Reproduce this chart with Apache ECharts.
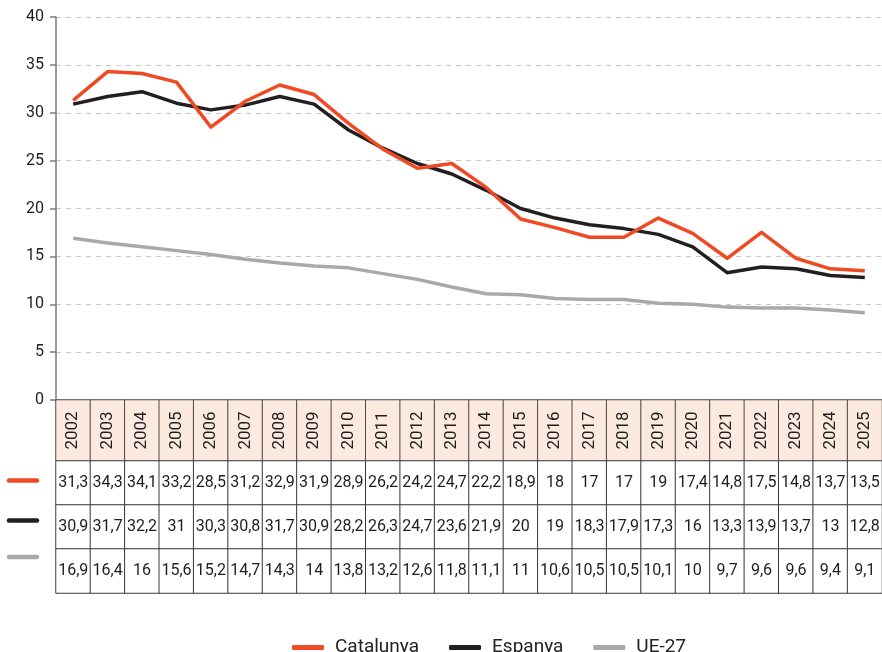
<!DOCTYPE html>
<html>
<head>
<meta charset="utf-8">
<script src="https://cdn.jsdelivr.net/npm/echarts@6/dist/echarts.min.js"></script>
<style>
html,body{margin:0;padding:0;background:#fff;}
#c{width:882px;height:652px;}
</style>
</head>
<body>
<div id="c"></div>
<script>
const years = ['2002','2003','2004','2005','2006','2007','2008','2009','2010','2011','2012','2013','2014','2015','2016','2017','2018','2019','2020','2021','2022','2023','2024','2025'];
const catalunya = [31.3,34.3,34.1,33.2,28.5,31.2,32.9,31.9,28.9,26.2,24.2,24.7,22.2,18.9,18,17,17,19,17.4,14.8,17.5,14.8,13.7,13.5];
const espanya = [30.9,31.7,32.2,31,30.3,30.8,31.7,30.9,28.2,26.3,24.7,23.6,21.9,20,19,18.3,17.9,17.3,16,13.3,13.9,13.7,13,12.8];
const ue27 = [16.9,16.4,16,15.6,15.2,14.7,14.3,14,13.8,13.2,12.6,11.8,11.1,11,10.6,10.5,10.5,10.1,10,9.7,9.6,9.6,9.4,9.1];
const seriesNames = ['Catalunya','Espanya','UE-27'];
const yTicks = {min:0, max:40, interval:5};

const colors = {Catalunya:'#EF4A24', Espanya:'#231F20', 'UE-27':'#A8A9AC'};
const seriesData = {Catalunya:catalunya, Espanya:espanya, 'UE-27':ue27};
const FONT = 'Roboto, "Noto Sans", sans-serif';
const fmt = v => String(v).replace('.', ',');

const headerCells = years.map((y,i)=>[i,0,y]);
const valueCells = [];
seriesNames.forEach((n,r)=>{ seriesData[n].forEach((v,i)=>valueCells.push([i,r,v])); });

const chart = echarts.init(document.getElementById('c'), null, {renderer:'canvas'});
const lineSeries = ['UE-27','Espanya','Catalunya'].map((n,k)=>({
  name:n, type:'line', xAxisIndex:0, yAxisIndex:0, data:seriesData[n],
  symbol:'none', smooth:false, z:5+k,
  lineStyle:{color:colors[n], width:3.5, join:'round'},
  itemStyle:{color:colors[n]},
  silent:true
}));

chart.setOption({
  animation:false,
  textStyle:{fontFamily:FONT},
  grid:[
    {left:56, right:0, top:17, height:383},
    {left:56, right:0, top:400, height:61},
    {left:56, right:0, top:461, height:132}
  ],
  xAxis:[
    {gridIndex:0, type:'category', data:years, boundaryGap:true, axisLine:{show:false}, axisTick:{show:false}, axisLabel:{show:false}},
    {gridIndex:1, type:'category', data:years, show:false},
    {gridIndex:2, type:'category', data:years, show:false}
  ],
  yAxis:[
    {gridIndex:0, type:'value', min:yTicks.min, max:yTicks.max, interval:yTicks.interval,
     axisLine:{show:true, lineStyle:{color:'#7a7a7a', width:1.5}},
     axisTick:{show:true, length:6, lineStyle:{color:'#7a7a7a', width:1.5}},
     axisLabel:{color:'#1e1e1e', fontSize:16, margin:12, fontFamily:FONT},
     splitLine:{show:true, lineStyle:{color:'#c8c8c8', type:[5,5], width:1}}},
    {gridIndex:1, type:'category', data:['h'], show:false},
    {gridIndex:2, type:'category', data:seriesNames, inverse:true, show:false}
  ],
  legend:{
    data:seriesNames, left:287, top:633, itemGap:30, itemWidth:32, itemHeight:5,
    icon:'roundRect', selectedMode:false,
    textStyle:{fontSize:19, color:'#222', fontFamily:FONT, padding:[0,0,0,6]}
  },
  graphic: seriesNames.map((n,r)=>({
    type:'line', shape:{x1:9, y1:[480.5,520.5,557][r], x2:37, y2:[480.5,520.5,557][r]},
    style:{stroke:colors[n], lineWidth:4.5, lineCap:'round'}
  })),
  series:[
    ...lineSeries,
    {name:'header', type:'heatmap', xAxisIndex:1, yAxisIndex:1, data:headerCells, silent:true,
     itemStyle:{color:'#FCE9DF', borderColor:'#4a4a4a', borderWidth:1},
     label:{show:true, rotate:90, fontSize:17, color:'#1e1e1e', fontFamily:FONT, formatter:p=>p.value[2]},
     emphasis:{disabled:true}},
    {name:'values', type:'heatmap', xAxisIndex:2, yAxisIndex:2, data:valueCells, silent:true,
     itemStyle:{color:'#ffffff', borderColor:'#3a3a3a', borderWidth:1},
     label:{show:true, fontSize:16, color:'#1e1e1e', fontFamily:FONT, formatter:p=>fmt(p.value[2])},
     emphasis:{disabled:true}}
  ]
});
</script>
</body>
</html>
